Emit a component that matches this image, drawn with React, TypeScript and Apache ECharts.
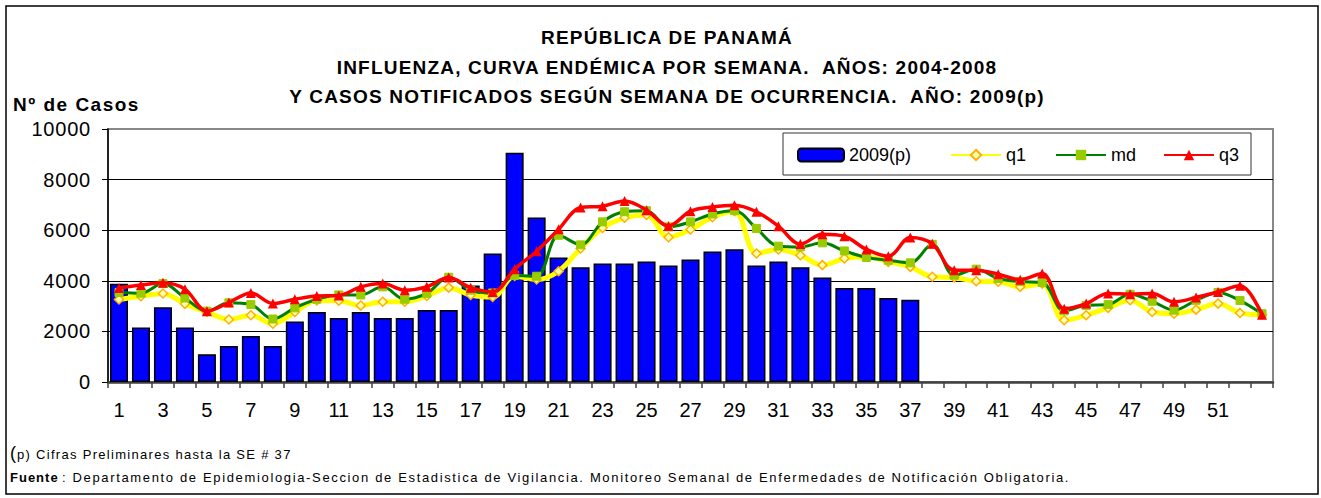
import React, { useEffect, useRef } from "react";
import * as echarts from "echarts";

const weeks = ["1","2","3","4","5","6","7","8","9","10","11","12","13","14","15","16","17","18","19","20","21","22","23","24","25","26","27","28","29","30","31","32","33","34","35","36","37","38","39","40","41","42","43","44","45","46","47","48","49","50","51","52","53"];

const cases2009 = [3880, 2150, 2950, 2150, 1100, 1420, 1820, 1420, 2390, 2770, 2530, 2770, 2530, 2530, 2850, 2850, 3810, 5080, 9060, 6500, 4920, 4540, 4680, 4680, 4760, 4600, 4840, 5160, 5250, 4600, 4760, 4540, 4130, 3720, 3720, 3320, 3250, null, null, null, null, null, null, null, null, null, null, null, null, null, null, null, null];

const q1 = [3260, 3390, 3500, 3090, 2770, 2470, 2640, 2300, 2770, 3220, 3210, 3020, 3170, 3170, 3400, 3730, 3440, 3360, 4190, 4050, 4380, 5280, 6090, 6490, 6600, 5720, 6030, 6510, 6750, 5080, 5240, 5010, 4620, 4880, 4950, 4750, 4550, 4160, 4130, 3980, 3960, 3760, 3890, 2440, 2640, 2930, 3230, 2770, 2700, 2860, 3100, 2730, 2660];

const md = [3540, 3510, 3890, 3320, 2800, 3130, 3060, 2490, 2930, 3270, 3440, 3440, 3760, 3270, 3500, 4140, 3630, 3520, 4210, 4180, 5800, 5420, 6330, 6730, 6770, 6130, 6330, 6640, 6770, 6070, 5370, 5340, 5500, 5180, 4920, 4810, 4710, 5440, 4220, 4460, 4090, 3970, 3930, 2810, 3030, 3060, 3470, 3190, 2840, 3230, 3540, 3220, 2700];

const q3 = [3720, 3830, 3920, 3670, 2800, 3140, 3520, 3100, 3270, 3400, 3420, 3760, 3890, 3630, 3760, 4130, 3730, 3560, 4460, 5170, 6040, 6900, 6950, 7150, 6790, 6170, 6750, 6920, 6990, 6730, 6160, 5450, 5840, 5760, 5240, 4970, 5710, 5460, 4420, 4420, 4260, 4040, 4290, 2900, 3100, 3500, 3470, 3500, 3170, 3340, 3560, 3800, 2660];

const yTicks = ["0", "2000", "4000", "6000", "8000", "10000"];

const titleLines = [
  "REPÚBLICA DE PANAMÁ",
  "INFLUENZA, CURVA ENDÉMICA POR SEMANA.  AÑOS: 2004-2008",
  "Y CASOS NOTIFICADOS SEGÚN SEMANA DE OCURRENCIA.  AÑO: 2009(p)",
];
const yAxisTitle = "Nº de Casos";
const note1 = "p) Cifras Preliminares hasta la SE # 37";
const sourceLabel = "Fuente";
const sourceText = ": Departamento de Epidemiologia-Seccion de Estadistica de Vigilancia. Monitoreo Semanal de Enfermedades de Notificación Obligatoria.";

const FONT = "'Liberation Sans', Arial, sans-serif";

export default function App() {
  const ref = useRef<HTMLDivElement>(null);
  useEffect(() => {
    if (!ref.current) return;
    const chart = echarts.init(ref.current, null, { renderer: "svg" });
    const legendBase = {
      top: 146,
      padding: 0,
      itemWidth: 50,
      itemHeight: 13,
      itemGap: 5,
      z: 10,
      textStyle: { fontSize: 18, color: "#000", fontFamily: FONT },
    };
    chart.setOption({
      animation: false,
      backgroundColor: "#fff",
      textStyle: { fontFamily: FONT },
      title: {
        text: titleLines.join("\n"),
        left: 667,
        textAlign: "center",
        top: 23,
        padding: 0,
        textStyle: { fontSize: 19, fontWeight: "bold", color: "#000", lineHeight: 29.5, fontFamily: FONT },
      },
      legend: [
        { ...legendBase, left: 797, itemWidth: 46, data: ["2009(p)"] },
        { ...legendBase, left: 950, data: ["q1"] },
        { ...legendBase, left: 1055, data: ["md"] },
        { ...legendBase, left: 1163, data: ["q3"] },
      ],
      grid: {
        left: 108,
        right: 48,
        top: 129,
        bottom: 116,
        show: true,
        borderColor: "#888",
        borderWidth: 2,
        backgroundColor: "transparent",
      },
      xAxis: {
        type: "category",
        data: weeks,
        boundaryGap: true,
        axisLine: { lineStyle: { color: "#404040", width: 2.5 } },
        axisTick: { show: true, interval: 0, alignWithLabel: false, length: 6, lineStyle: { color: "#404040", width: 1.5 } },
        axisLabel: {
          interval: (index: number) => index % 2 === 0 && index < 52,
          fontSize: 20,
          color: "#000",
          margin: 18,
          fontFamily: FONT,
        },
        splitLine: { show: false },
      },
      yAxis: {
        type: "value",
        min: 0,
        max: 10000,
        interval: 2000,
        axisLine: { show: true, lineStyle: { color: "#000", width: 1.5 } },
        axisTick: { show: true, length: 6, lineStyle: { color: "#000" } },
        axisLabel: {
          fontSize: 20,
          color: "#000",
          margin: 17,
          fontFamily: FONT,
          formatter: (v: number) => String(v),
        },
        splitLine: { show: true, lineStyle: { color: ["#000", "#000", "#000", "#000", "#000", "#888"], width: 1 } },
      },
      graphic: [
        {
          type: "rect",
          shape: { x: 6, y: 6, width: 1312, height: 488 },
          style: { fill: "none", stroke: "#000", lineWidth: 1.5 },
          z: -10,
          silent: true,
        },
        {
          type: "rect",
          shape: { x: 783, y: 133, width: 468, height: 42 },
          style: { fill: "#fff", stroke: "#333", lineWidth: 1 },
          z: 1,
          silent: true,
        },
        {
          type: "text",
          left: 13,
          top: 95,
          style: { text: yAxisTitle, fontSize: 19, fontWeight: "bold", fill: "#000", fontFamily: FONT },
        },
        {
          type: "text",
          left: 10,
          top: 444,
          style: { text: "(", fontSize: 18, fill: "#000", fontFamily: FONT },
        },
        {
          type: "text",
          left: 17,
          top: 448,
          style: { text: note1, fontSize: 13, fill: "#000", fontFamily: FONT },
        },
        {
          type: "text",
          left: 10,
          top: 471,
          style: { text: sourceLabel, fontSize: 13, fontWeight: "bold", fill: "#000", fontFamily: FONT },
        },
        {
          type: "text",
          left: 62,
          top: 471,
          style: { text: sourceText, fontSize: 13, fill: "#000", fontFamily: FONT },
        },
      ],
      series: [
        {
          name: "2009(p)",
          type: "bar",
          data: cases2009,
          barCategoryGap: "18%",
          itemStyle: { color: "#0000FF", borderColor: "#000", borderWidth: 1.5 },
          z: 2,
        },
        {
          name: "q1",
          type: "line",
          data: q1,
          smooth: 0.35,
          symbol: "diamond",
          symbolSize: 9,
          lineStyle: { color: "#FFFF00", width: 5 },
          itemStyle: { color: "#FFFFB0", borderColor: "#FFB000", borderWidth: 1.5 },
          z: 3,
        },
        {
          name: "md",
          type: "line",
          data: md,
          smooth: 0.35,
          symbol: "rect",
          symbolSize: 8,
          lineStyle: { color: "#008000", width: 3 },
          itemStyle: { color: "#99CC00", borderColor: "#99CC00" },
          z: 4,
        },
        {
          name: "q3",
          type: "line",
          data: q3,
          smooth: 0.35,
          symbol: "triangle",
          symbolSize: 10,
          lineStyle: { color: "#FF0000", width: 3.5 },
          itemStyle: { color: "#FF0000" },
          z: 5,
        },
      ],
    });

    const spacing: Record<string, string> = {};
    titleLines.forEach((t) => (spacing[t] = "1.2px"));
    spacing[yAxisTitle] = "1.5px";
    spacing[note1] = "1.3px";
    spacing[sourceLabel] = "1px";
    spacing[sourceText] = "1.65px";
    yTicks.forEach((t) => (spacing[t] = "0.8px"));
    const applySpacing = () => {
      if (!ref.current) return;
      ref.current.querySelectorAll("text").forEach((el) => {
        const s = spacing[(el.textContent || "").trim()];
        if (s) (el as SVGTextElement).style.letterSpacing = s;
      });
    };
    chart.on("finished", applySpacing);
    applySpacing();
    return () => chart.dispose();
  }, []);
  return (
    <div
      ref={ref}
      style={{ position: "fixed", left: 0, top: 0, width: 1321, height: 498, background: "#fff" }}
    />
  );
}
